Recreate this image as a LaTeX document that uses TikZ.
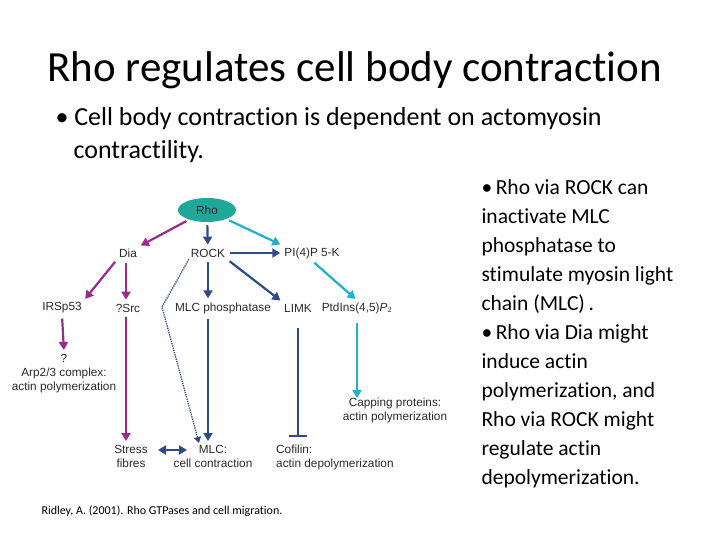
\documentclass[tikz,border=0pt]{standalone}
\usepackage{fontspec}
\setmainfont[Ligatures=NoCommon]{Carlito}
\newfontfamily\diagfont{Liberation Sans}
\usetikzlibrary{shapes.geometric,arrows.meta}
\definecolor{rhoteal}{HTML}{1FA89A}
\definecolor{diapurple}{HTML}{9B2A8C}
\definecolor{rocknavy}{HTML}{2E4A8C}
\definecolor{picyan}{HTML}{1FB0D0}
\definecolor{labelgray}{HTML}{2A2A2A}
\tikzset{
  lbl/.style={font=\diagfont\fontsize{11.8}{14}\selectfont, text=labelgray, inner sep=2pt, align=center},
  tip/.style={-{Triangle[length=8pt,width=9pt]}, line width=2.2pt, shorten <=3pt, shorten >=2pt},
  purp/.style={tip, diapurple},
  navy/.style={tip, rocknavy},
  cyan/.style={tip, picyan}
}
\begin{document}
\begin{tikzpicture}[x=1pt,y=-1pt]
	\useasboundingbox (0,0) rectangle (720,540);
	
	\node[anchor=base west, font=\fontsize{43}{48}\selectfont] (title) at (44,82) {Rho regulates cell body contraction};
	\node[anchor=base west, font=\fontsize{26}{30}\selectfont] (bul) at (52,126) {\textbullet\ Cell body contraction is dependent on actomyosin};
	\node[anchor=base west, font=\fontsize{26}{30}\selectfont] (bul2) at (70,159) {contractility.};
	\node[anchor=north west, align=left, font=\fontsize{21.5}{29}\selectfont] (side) at (478,176)
	  {\textbullet\,Rho via ROCK can\\inactivate MLC\\phosphatase to\\stimulate myosin light\\chain (MLC)\,.\\
	   \textbullet\,Rho via Dia might\\induce actin\\polymerization, and\\Rho via ROCK might\\regulate actin\\depolymerization.};
	\node[anchor=base west, font=\fontsize{12}{13}\selectfont] (cite) at (38,514) {Ridley, A. (2001). Rho GTPases and cell migration.};
	
	% diagram
	\node[ellipse, fill=rhoteal, minimum width=58, minimum height=24, lbl] (rho) at (207,210) {Rho};
	\node[lbl] (dia) at (128,253) {Dia};
	\node[lbl] (rock) at (208,253) {ROCK};
	\node[lbl] (pik) at (312,253) {PI(4)P 5-K};
	\node[lbl] (irsp) at (62,308) {IRSp53};
	\node[lbl] (src) at (128,308) {?Src};
	\node[lbl] (mlcp) at (223,308) {MLC phosphatase};
	\node[lbl] (limk) at (298,308) {LIMK};
	\node[lbl] (ptd) at (357,308) {PtdIns(4,5)\textit{P}$_2$};
	\node[lbl, anchor=north] (arp) at (64,352) {?\\Arp2/3 complex:\\actin polymerization};
	\node[lbl, anchor=north] (cap) at (395,396) {Capping proteins:\\actin polymerization};
	\node[lbl, anchor=north] (stress) at (131,443) {Stress\\fibres};
	\node[lbl, anchor=north] (mlc) at (213,443) {MLC:\\cell contraction};
	\node[lbl, anchor=north west, align=left] (cof) at (274,443) {Cofilin:\\actin depolymerization};
	\coordinate (sfend) at (155,450);
	\coordinate (mlcend) at (189,450);
	
	\draw[purp] (rho) -- (dia.north east);
	\draw[navy] (rho) -- (rock);
	\draw[cyan] (rho) -- (pik.north west);
	\draw[navy] (rock) -- (pik);
	\draw[purp] (dia.south west) -- (irsp.north east);
	\draw[purp] ([xshift=-2]dia.south) -- ([xshift=-2]dia.south |- src.north);
	\draw[navy] (rock) -- (rock |- mlcp.north);
	\draw[navy] (rock.south east) -- (limk.north west);
	\draw[rocknavy, line width=1.3pt, densely dotted, -{Triangle[length=6pt,width=7pt]}] (rock.south west) -- (162,307) -- ([xshift=-14]mlc.north);
	\draw[cyan] (pik.south) -- (ptd.north);
	\draw[purp] (irsp.south) -- (arp.north);
	\draw[purp] ([xshift=-2]src.south) -- ([xshift=-2]src.south |- stress.north);
	\draw[navy] (rock |- mlcp.south) -- (rock |- mlc.north);
	\draw[rocknavy, line width=2.2pt, -{Bar[width=18pt]}] ([yshift=-14]limk.south) -- ([yshift=6]limk.south |- cof.north);
	\draw[cyan] ([yshift=-4]ptd.south) -- ([yshift=-4]ptd.south |- cap.north);
	\draw[navy, {Triangle[length=8pt,width=9pt]}-{Triangle[length=8pt,width=9pt]}] (sfend) -- (mlcend);
\end{tikzpicture}
\end{document}
